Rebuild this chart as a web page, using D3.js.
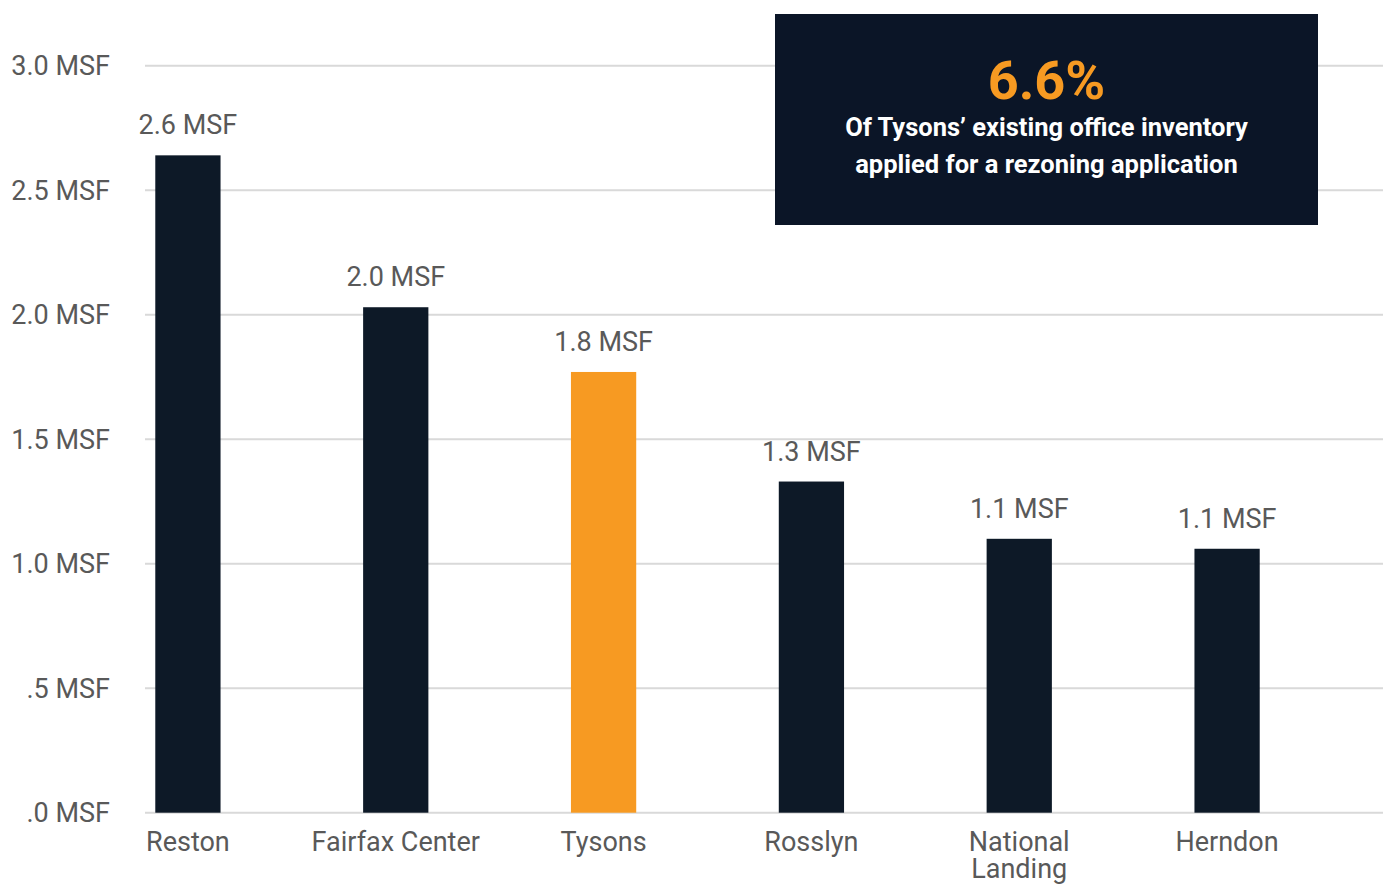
<!DOCTYPE html>
<html>
<head>
<meta charset="utf-8">
<script src="https://cdn.jsdelivr.net/npm/d3@7"></script>
<style>
  html, body { margin: 0; padding: 0; background: #ffffff; }
  svg { display: block; font-family: Roboto, "Noto Sans", sans-serif; }
</style>
</head>
<body>
<svg id="chart" width="1383" height="884"></svg>
<script>
// ---- data ----
const categories = ["Reston", "Fairfax Center", "Tysons", "Rosslyn", "National Landing", "Herndon"];
const categoryLabels = ["Reston", "Fairfax Center", "Tysons", "Rosslyn", "National\nLanding", "Herndon"];
const values = [2.64, 2.03, 1.77, 1.33, 1.10, 1.06];
const valueLabels = ["2.6 MSF", "2.0 MSF", "1.8 MSF", "1.3 MSF", "1.1 MSF", "1.1 MSF"];
const highlight = ["Tysons"];
const yTicks = [0, 0.5, 1.0, 1.5, 2.0, 2.5, 3.0];
const yTickLabels = [".0 MSF", ".5 MSF", "1.0 MSF", "1.5 MSF", "2.0 MSF", "2.5 MSF", "3.0 MSF"];
const calloutValue = "6.6%";
const calloutLines = ["Of Tysons\u2019 existing office inventory", "applied for a rezoning application"];

// ---- layout ----
const svg = d3.select("#chart");
const textColor = "#595959";
const dark = "#0d1927";
const orange = "#f79a22";

const y = d3.scaleLinear().domain([0, 3.0]).range([812.7, 65.7]);
const x = d3.scaleBand().domain(categories).range([84, 1331])
  .paddingInner(0.686).paddingOuter(0.343);

// gridlines
svg.append("g").selectAll("line").data(yTicks).join("line")
  .attr("x1", 145).attr("x2", 1383)
  .attr("y1", d => y(d)).attr("y2", d => y(d))
  .attr("stroke", "#d9d9d9").attr("stroke-width", 2);

// y tick labels
svg.append("g").selectAll("text").data(yTicks).join("text")
  .attr("x", 110).attr("y", d => y(d)).attr("dy", "0.35em")
  .attr("text-anchor", "end")
  .attr("font-size", 27).attr("fill", textColor)
  .text((d, i) => yTickLabels[i]);

// bars
svg.append("g").selectAll("rect").data(categories).join("rect")
  .attr("x", d => x(d)).attr("width", x.bandwidth())
  .attr("y", (d, i) => y(values[i]))
  .attr("height", (d, i) => y(0) - y(values[i]))
  .attr("fill", d => highlight.includes(d) ? orange : dark);

// value labels
svg.append("g").selectAll("text").data(categories).join("text")
  .attr("x", d => x(d) + x.bandwidth() / 2)
  .attr("y", (d, i) => y(values[i]) - 21)
  .attr("text-anchor", "middle")
  .attr("font-size", 27).attr("fill", textColor)
  .text((d, i) => valueLabels[i]);

// category labels
const cat = svg.append("g").selectAll("text").data(categories).join("text")
  .attr("x", d => x(d) + x.bandwidth() / 2)
  .attr("y", 851)
  .attr("text-anchor", "middle")
  .attr("font-size", 27).attr("fill", textColor);
cat.each(function(d, i) {
  const lines = categoryLabels[i].split("\n");
  const t = d3.select(this);
  lines.forEach((ln, j) => {
    t.append("tspan").attr("x", x(d) + x.bandwidth() / 2)
      .attr("dy", j === 0 ? 0 : 27).text(ln);
  });
});

// callout box
const box = svg.append("g");
box.append("rect").attr("x", 775).attr("y", 14).attr("width", 543).attr("height", 211)
  .attr("fill", "#0b1527");
box.append("text").attr("x", 1046.5).attr("y", 99)
  .attr("text-anchor", "middle").attr("font-size", 54).attr("font-weight", 700)
  .attr("fill", orange).text(calloutValue);
box.selectAll("text.line").data(calloutLines).join("text")
  .attr("class", "line")
  .attr("x", 1046.5).attr("y", (d, i) => 136 + i * 37)
  .attr("text-anchor", "middle").attr("font-size", 25.5).attr("font-weight", 700)
  .attr("fill", "#ffffff").text(d => d);
</script>
</body>
</html>
